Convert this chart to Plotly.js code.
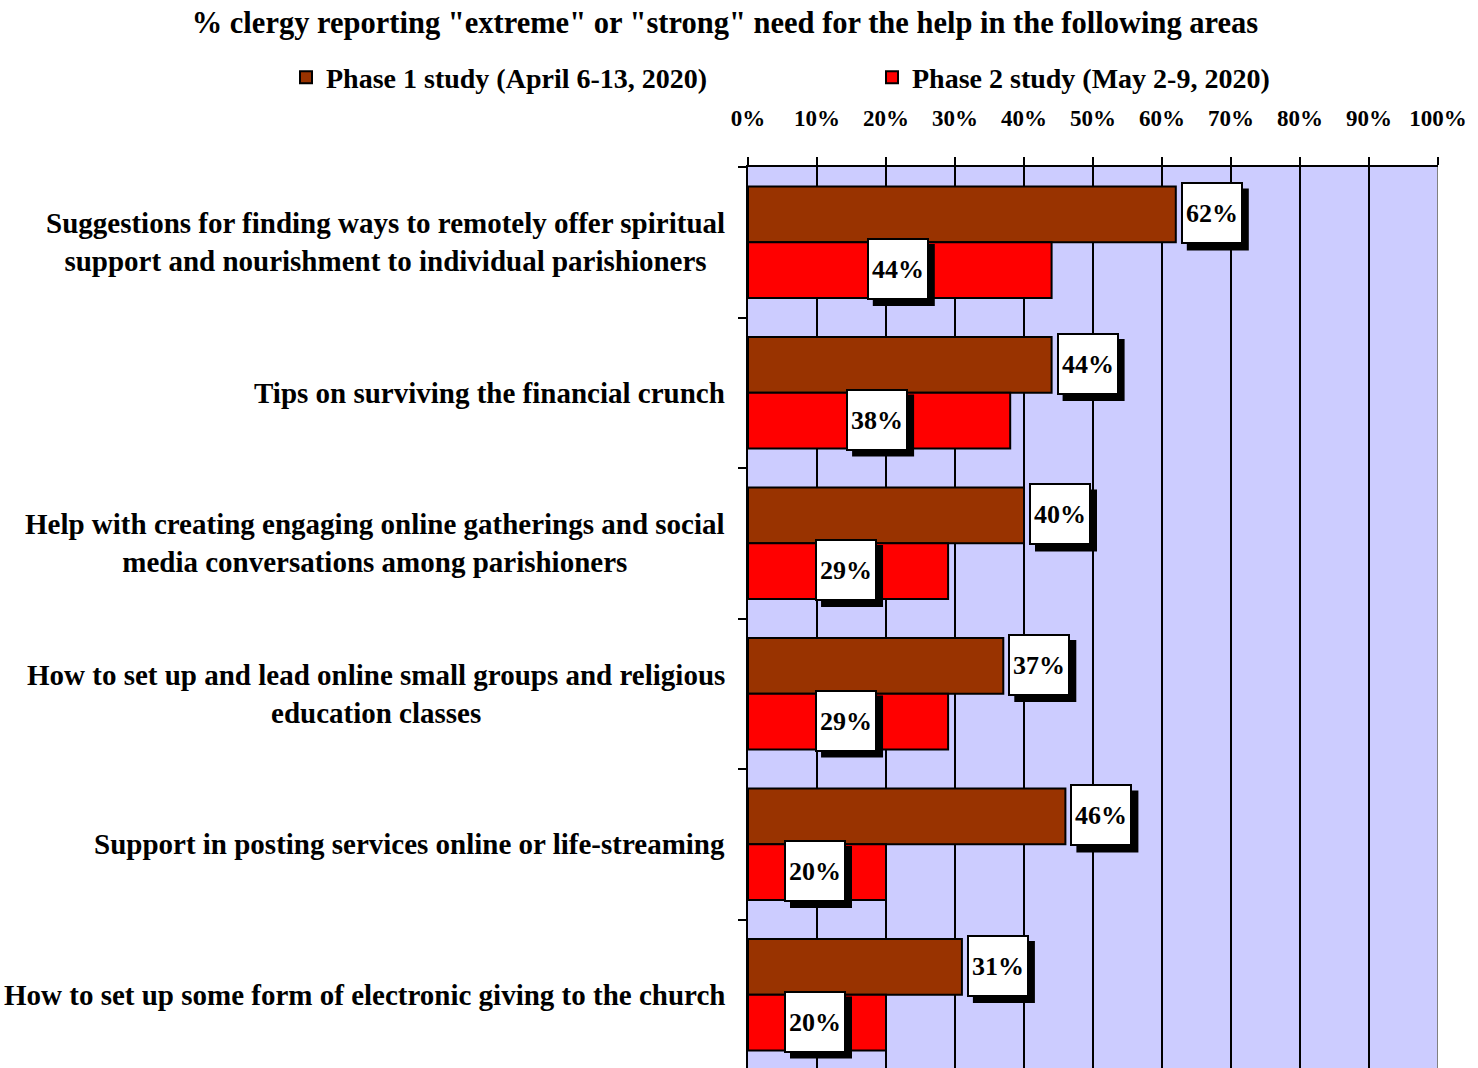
<!DOCTYPE html>
<html>
<head>
<meta charset="utf-8">
<script src="https://cdn.plot.ly/plotly-3.0.1.min.js"></script>
<style>
  html, body { margin: 0; padding: 0; overflow: hidden; background: #fff; }
  #chart { width: 1478px; height: 1080px; }
</style>
</head>
<body>
<div id="chart"></div>
<script>
var categories = [
  "Suggestions for finding ways to remotely offer spiritual<br>support and nourishment to individual parishioners",
  "Tips on surviving the financial crunch",
  "Help with creating engaging online gatherings and social<br>media conversations among parishioners",
  "How to set up and lead online small groups and religious<br>education classes",
  "Support in posting services online or life-streaming",
  "How to set up some form of electronic giving to the church"
];
var phase1 = [62, 44, 40, 37, 46, 31];
var phase2 = [44, 38, 29, 29, 20, 20];
var seriesNames = ["Phase 1 study (April 6-13, 2020)", "Phase 2 study (May 2-9, 2020)"];
var titleText = '% clergy reporting "extreme" or "strong" need for the help in the following areas';

var FONT = "Liberation Serif, Times New Roman, serif";
var catIdx = categories.map(function (c, i) { return i; });

var traces = [
  {
    type: 'bar', orientation: 'h', name: seriesNames[0],
    y: catIdx, x: phase1, legend: 'legend',
    marker: { color: '#993300', line: { color: '#000', width: 2 } },
    hoverinfo: 'x'
  },
  {
    type: 'bar', orientation: 'h', name: seriesNames[1],
    y: catIdx, x: phase2, legend: 'legend2',
    marker: { color: '#FF0000', line: { color: '#000', width: 2 } },
    hoverinfo: 'x'
  }
];

var bargap = 0.26;
var half = (1 - bargap) / 4;
var annotations = [];
var shapes = [];
var BOX = 62;      // label box size in pixels (incl. border)
var SH = 6;        // shadow offset in pixels

function labelBox(x, y, txt, xanchor, xshift) {
  var left = (xanchor === 'left') ? xshift : xshift - BOX / 2;
  var yshift = 1;
  shapes.push({
    type: 'rect', layer: 'above',
    xref: 'x', xsizemode: 'pixel', xanchor: x,
    x0: left + SH, x1: left + SH + BOX,
    yref: 'y', ysizemode: 'pixel', yanchor: y,
    y0: yshift - BOX / 2 - SH, y1: yshift + BOX / 2 - SH,
    fillcolor: '#000', line: { width: 0 }
  });
  annotations.push({
    xref: 'x', yref: 'y', x: x, y: y, text: txt, showarrow: false,
    xanchor: xanchor, yanchor: 'middle',
    width: 58, height: 58, borderpad: 0, borderwidth: 2, bordercolor: '#000',
    bgcolor: '#fff', font: { family: FONT, size: 26, weight: 'bold', color: '#000' },
    xshift: xshift, yshift: yshift
  });
}

for (var i = 0; i < categories.length; i++) {
  labelBox(phase1[i], i - half, phase1[i] + '%', 'left', 5);
  labelBox(phase2[i] / 2, i + half, phase2[i] + '%', 'center', -2);
  annotations.push({
    xref: 'paper', yref: 'y', x: 0, y: i, xshift: -21,
    xanchor: 'right', yanchor: 'middle', align: 'center',
    text: categories[i], showarrow: false,
    font: { family: FONT, size: 29, weight: 'bold', color: '#000' }
  });
}

shapes.push({
  type: 'line', xref: 'x', yref: 'paper', x0: 100, x1: 100, y0: 0, y1: 1,
  line: { color: '#808080', width: 2 }, layer: 'above'
});

var legendCommon = {
  orientation: 'h', xanchor: 'left', xref: 'container',
  y: 1.099, yanchor: 'middle', yref: 'paper',
  itemwidth: 30,
  font: { family: FONT, size: 28, weight: 'bold', color: '#000' },
  bgcolor: 'rgba(0,0,0,0)'
};

var layout = {
  width: 1478, height: 1080,
  margin: { l: 748, r: 40, t: 167, b: 10, pad: 0, autoexpand: false },
  paper_bgcolor: '#fff',
  plot_bgcolor: '#CCCCFF',
  barmode: 'group',
  bargap: bargap,
  bargroupgap: 0,
  title: {
    text: titleText,
    xref: 'container', x: 0.4905, xanchor: 'center',
    yref: 'container', y: 1 - 22 / 1068, yanchor: 'middle',
    font: { family: FONT, size: 30.5, weight: 'bold', color: '#000' }
  },
  legend: Object.assign({}, legendCommon, { x: 286 / 1478 }),
  legend2: Object.assign({}, legendCommon, { x: 872 / 1478 }),
  xaxis: {
    side: 'top', range: [0, 100], dtick: 10, tick0: 0,
    ticksuffix: '%',
    ticks: 'outside', ticklen: 8, tickwidth: 2, tickcolor: '#000',
    showline: true, linecolor: '#000', linewidth: 2,
    showgrid: true, gridcolor: '#000', gridwidth: 2,
    zeroline: false,
    ticklabelstandoff: 22,
    tickfont: { family: FONT, size: 23, weight: 'bold', color: '#000' },
    fixedrange: true
  },
  yaxis: {
    type: 'linear',
    range: [5.5, -0.5],
    tickmode: 'array', tickvals: [-0.5, 0.5, 1.5, 2.5, 3.5, 4.5, 5.5],
    showticklabels: false,
    ticks: 'outside', ticklen: 8, tickwidth: 2, tickcolor: '#000',
    showline: true, linecolor: '#000', linewidth: 2,
    showgrid: false, zeroline: false,
    fixedrange: true
  },
  annotations: annotations,
  shapes: shapes,
  showlegend: true
};

Plotly.newPlot('chart', traces, layout, { displayModeBar: false, staticPlot: true });
</script>
</body>
</html>
